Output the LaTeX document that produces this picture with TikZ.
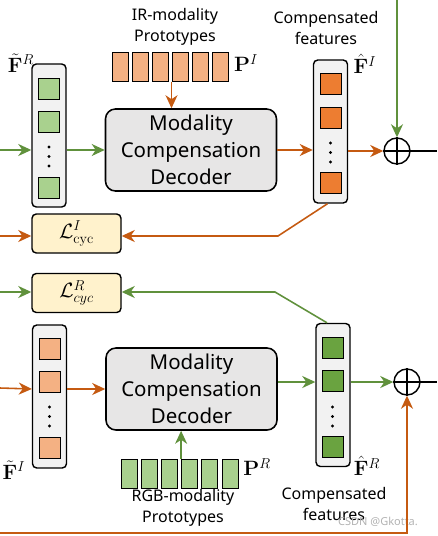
\documentclass[tikz,border=0pt]{standalone}
\usepackage{amsmath}
\usepackage[no-math]{fontspec}
\setmainfont{Noto Sans}
\usetikzlibrary{arrows.meta}
\begin{document}
\begin{tikzpicture}[x=1pt,y=-1pt]

	%ESTILOS
	\tikzstyle{every node}=[font=\fontsize{16}{21}\selectfont]
	\tikzstyle{decoder} = [draw, rounded corners=0.35cm, align=center, line width=0.55mm, fill={rgb,255:red,231; green,230; blue,230}, minimum width=171pt, minimum height=82pt, font=\fontsize{20.5}{27}\selectfont]
	\tikzstyle{columna} = [draw, rounded corners=0.15cm, line width=0.5mm, fill={rgb,255:red,242; green,242; blue,242}, minimum width=34pt, minimum height=143pt]
	\tikzstyle{cuadro} = [draw, line width=0.35mm, minimum size=21pt, inner sep=0pt]
	\tikzstyle{proto} = [draw, line width=0.35mm, minimum width=16pt, minimum height=29pt, inner sep=0pt]
	\tikzstyle{perdida} = [draw, rounded corners=0.15cm, line width=0.5mm, fill={rgb,255:red,255; green,242; blue,204}, minimum width=89pt, minimum height=39pt, font=\fontsize{21}{22}\selectfont]
	\tikzstyle{suma} = [draw, circle, line width=0.5mm, minimum size=26pt, inner sep=0pt]
	\tikzstyle{etiqueta} = [inner sep=0pt, font=\fontsize{20}{22}\selectfont]
	\tikzstyle{texto} = [align=center, inner sep=0pt]
	\tikzstyle{verde} = [-{Stealth[length=13pt, width=12pt, inset=4pt]}, line width=0.55mm, draw={rgb,255:red,96; green,145; blue,60}]
	\tikzstyle{naranja} = [-{Stealth[length=13pt, width=12pt, inset=4pt]}, line width=0.55mm, draw={rgb,255:red,197; green,90; blue,17}]
	\tikzstyle{linea} = [line width=0.55mm]
	\tikzstyle{naranjaC} = [draw, fill={rgb,255:red,237; green,125; blue,49}]
	\tikzstyle{naranjaL} = [draw, fill={rgb,255:red,244; green,177; blue,131}]
	\tikzstyle{verdeC} = [draw, fill={rgb,255:red,106; green,163; blue,64}]
	\tikzstyle{verdeL} = [draw, fill={rgb,255:red,169; green,209; blue,142}]

	\useasboundingbox (0,0) rectangle (437,536);

	%NODOS
	\draw(191,150) node[decoder](dec1){Modality\\Compensation\\Decoder};
	\draw(191.5,389) node[decoder](dec2){Modality\\Compensation\\Decoder};

	\draw(49,135.5) node[columna](col1){};
	\draw(330.5,131.5) node[columna](col2){};
	\draw(49.5,396.5) node[columna](col3){};
	\draw(333,395) node[columna](col4){};

	\draw(49,88.5) node[cuadro, verdeL](c1a){};
	\draw(49,122) node[cuadro, verdeL](c1b){};
	\draw(49,188) node[cuadro, verdeL](c1c){};
	\draw(330.5,84) node[cuadro, naranjaC](c2a){};
	\draw(330.5,117.5) node[cuadro, naranjaC](c2b){};
	\draw(330.5,183) node[cuadro, naranjaC](c2c){};
	\draw(49.5,348.5) node[cuadro, naranjaL](c3a){};
	\draw(49.5,382) node[cuadro, naranjaL](c3b){};
	\draw(49.5,447.5) node[cuadro, naranjaL](c3c){};
	\draw(332.5,347.5) node[cuadro, verdeC](c4a){};
	\draw(332.5,381) node[cuadro, verdeC](c4b){};
	\draw(332.5,446.5) node[cuadro, verdeC](c4c){};

	\fill (49,147) circle (1.6) (49,156.5) circle (1.6) (49,166) circle (1.6);
	\fill (330.5,143) circle (1.6) (330.5,152.5) circle (1.6) (330.5,162) circle (1.6);
	\fill (49.5,407) circle (1.6) (49.5,416.5) circle (1.6) (49.5,426) circle (1.6);
	\fill (332.5,407) circle (1.6) (332.5,416.5) circle (1.6) (332.5,426) circle (1.6);

	\draw(120,66.5) node[proto, naranjaL](p1a){};
	\draw(140,66.5) node[proto, naranjaL](p1b){};
	\draw(160,66.5) node[proto, naranjaL](p1c){};
	\draw(180,66.5) node[proto, naranjaL](p1d){};
	\draw(200,66.5) node[proto, naranjaL](p1e){};
	\draw(220,66.5) node[proto, naranjaL](p1f){};
	\draw(129,474) node[proto, verdeL](p2a){};
	\draw(149.2,474) node[proto, verdeL](p2b){};
	\draw(169.4,474) node[proto, verdeL](p2c){};
	\draw(189.6,474) node[proto, verdeL](p2d){};
	\draw(209.8,474) node[proto, verdeL](p2e){};
	\draw(230,474) node[proto, verdeL](p2f){};

	\draw(76.5,233.5) node[perdida](lci){$\mathcal{L}^{I}_{\mathrm{cyc}}$};
	\draw(76.5,293) node[perdida](lcr){$\mathcal{L}^{R}_{cyc}$};

	\draw(397,151) node[suma](s1){};
	\draw(407,382) node[suma](s2){};
	\draw[linea] (s1.north) -- (s1.south) (s1.west) -- (s1.east);
	\draw[linea] (s2.north) -- (s2.south) (s2.west) -- (s2.east);

	%TEXTOS
	\draw(21,63) node[etiqueta](tfr){$\tilde{\mathbf{F}}^R$};
	\draw(246,63) node[etiqueta](tpi){$\mathbf{P}^I$};
	\draw(365,64) node[etiqueta](tfi){$\hat{\mathbf{F}}^I$};
	\draw(14,470) node[etiqueta](tfi2){$\tilde{\mathbf{F}}^I$};
	\draw(257,467) node[etiqueta](tpr){$\mathbf{P}^R$};
	\draw(367,466) node[etiqueta](tfr2){$\hat{\mathbf{F}}^R$};
	\draw(175,27) node[texto](t1){IR-modality\\Prototypes};
	\draw(326,28) node[texto](t2){Compensated\\features};
	\draw(334,504) node[texto](t3){Compensated\\features};
	\draw(183,508) node[texto](t4){RGB-modality\\Prototypes};
	\draw(378,522) node[texto, text=black!30, font=\fontsize{11}{13}\selectfont](wm){CSDN @Gkotta.};

	%CONEXIONES
	\coordinate (in1) at (0,150);
	\coordinate (in2) at (0,236);
	\coordinate (in3) at (0,292);
	\coordinate (in4) at (0,388);
	\coordinate (bajo) at (0,533);
	\coordinate (arriba) at (397,0);
	\coordinate (out1) at (437,151);
	\coordinate (out2) at (437,382);
	\coordinate (k1) at (278,236);
	\coordinate (k2) at (275,292);

	\draw [verde] (in1) -- (col1.west |- dec1);
	\draw [verde] (col1.east |- dec1) -- (dec1.west);
	\draw [verde] (arriba) -- (s1.north);
	\draw [verde] (in3) -- (lcr.west |- in3);
	\draw [verde] ([xshift=-6pt]col4.north) -- (k2) -- (lcr.east |- k2);
	\draw [verde] (dec2.east |- s2) -- (col4.west |- s2);
	\draw [verde] (col4.east |- s2) -- (s2.west);
	\draw [verde] (p2d.north west) -- (p2d.north west |- dec2.south);

	\draw [naranja] (p1d.south west) -- (p1d.south west |- dec1.north);
	\draw [naranja] (dec1.east) -- (col2.west |- dec1);
	\draw [naranja] (col2.east |- s1) -- (s1.west);
	\draw [naranja] (in2) -- (lci.west |- in2);
	\draw [naranja] ([xshift=-3pt]col2.south) -- (k1) -- (lci.east |- k1);
	\draw [naranja] (in4) -- (col3.west |- dec2);
	\draw [naranja] (col3.east |- dec2) -- (dec2.west);
	\draw [naranja] (bajo) -| (s2.south);

	\draw [linea] (s1.east) -- (out1);
	\draw [linea] (s2.east) -- (out2);
\end{tikzpicture}
\end{document}
